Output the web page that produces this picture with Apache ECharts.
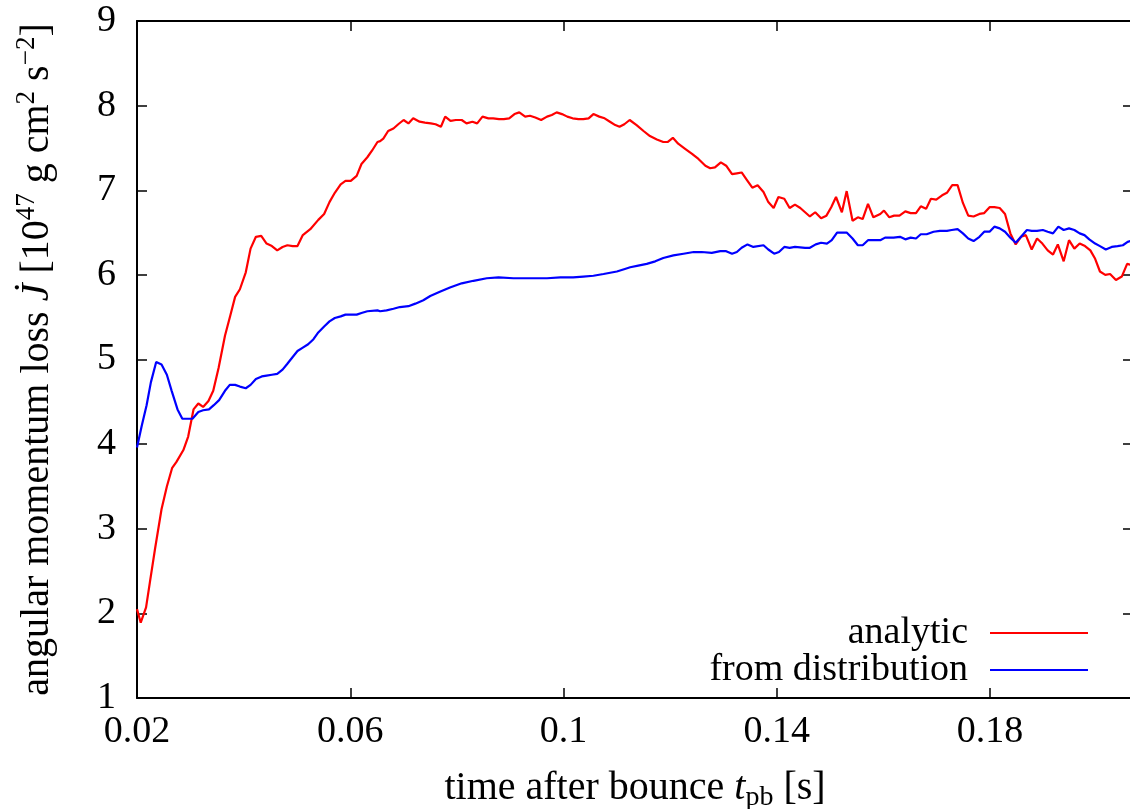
<!DOCTYPE html>
<html>
<head>
<meta charset="utf-8">
<script src="https://cdn.jsdelivr.net/npm/echarts@6/dist/echarts.min.js"></script>
<style>
html,body{margin:0;padding:0;background:#fff;}
#chart{width:1130px;height:809px;}
</style>
</head>
<body>
<div id="chart"></div>
<script>
// ---- data ----
const analyticT = [
0.0200,0.0207,0.0217,0.0224,0.0234,0.0246,0.0256,0.0266,0.0274,0.0287,
0.0296,0.0306,0.0315,0.0324,0.0334,0.0343,0.0353,0.0365,0.0375,0.0384,
0.0393,0.0404,0.0413,0.0423,0.0433,0.0443,0.0453,0.0463,0.0473,0.0482,
0.0492,0.0501,0.0511,0.0525,0.0540,0.0551,0.0561,0.0571,0.0582,0.0591,
0.0601,0.0612,0.0621,0.0632,0.0641,0.0651,
0.0656,0.0662,0.0671,0.0681,0.0690,0.0700,0.0709,0.0718,0.0730,0.0740,
0.0751,0.0760,0.0770,0.0778,0.0788,0.0798,0.0809,0.0818,0.0829,0.0838,
0.0848,0.0859,0.0868,0.0879,0.0888,0.0898,0.0908,0.0917,0.0928,0.0937,
0.0947,0.0958,0.0969,0.0978,0.0987,0.0997,0.1007,0.1017,0.1028,0.1037,
0.1047,0.1056,0.1067,0.1077,0.1087,0.1097,0.1105,0.1114,0.1124,
0.1137,0.1150,0.1162,0.1175,0.1187,0.1195,0.1205,0.1215,0.1228,0.1241,
0.1253,0.1266,0.1275,0.1284,0.1295,0.1305,0.1316,0.1325,0.1334,0.1344,
0.1354,0.1364,0.1375,0.1384,0.1394,0.1403,0.1414,0.1424,0.1434,0.1444,
0.1453,0.1462,0.1472,0.1483,0.1493,0.1502,0.1511,0.1522,0.1531,0.1542,
0.1552,0.1561,0.1571,0.1581,
0.1594,0.1601,0.1611,0.1620,0.1630,0.1641,0.1651,0.1661,0.1670,0.1680,
0.1689,0.1699,0.1710,0.1719,0.1729,0.1739,0.1749,0.1759,0.1769,0.1780,
0.1789,0.1799,0.1808,0.1818,0.1828,0.1838,0.1848,0.1858,0.1867,0.1878,
0.1888,0.1898,0.1908,0.1918,0.1927,0.1938,0.1948,0.1958,0.1968,0.1978,
0.1988,0.1997,0.2006,0.2016,0.2025,0.2036,0.2047,0.2057,0.2063
];
const analyticJ = [
2.05,1.89,2.07,2.36,2.77,3.23,3.50,3.72,3.79,3.93,
4.09,4.41,4.48,4.44,4.51,4.63,4.90,5.28,5.52,5.74,
5.83,6.03,6.31,6.45,6.46,6.37,6.34,6.29,6.33,6.35,
6.34,6.34,6.47,6.54,6.65,6.72,6.86,6.97,7.07,7.11,
7.11,7.17,7.31,7.39,7.47,7.57,
7.58,7.61,7.70,7.73,7.78,7.83,7.79,7.85,7.81,7.80,
7.79,7.78,7.75,7.87,7.82,7.83,7.83,7.79,7.81,7.79,
7.87,7.85,7.85,7.84,7.84,7.85,7.90,7.92,7.87,7.88,
7.86,7.83,7.87,7.89,7.92,7.90,7.87,7.85,7.84,7.84,
7.85,7.90,7.87,7.85,7.81,7.77,7.75,7.78,7.83,
7.77,7.70,7.64,7.60,7.57,7.57,7.62,7.55,7.49,7.43,
7.37,7.29,7.26,7.27,7.33,7.29,7.19,7.20,7.21,7.12,
7.03,7.06,6.98,6.86,6.79,6.92,6.90,6.79,6.83,6.79,
6.74,6.69,6.74,6.67,6.70,6.80,6.92,6.74,6.99,6.64,
6.68,6.66,6.84,6.68,
6.72,6.76,6.68,6.70,6.70,6.75,6.73,6.73,6.81,6.78,
6.90,6.89,6.94,6.97,7.06,7.06,6.85,6.70,6.69,6.72,
6.73,6.80,6.80,6.79,6.72,6.49,6.36,6.45,6.47,6.30,
6.43,6.37,6.29,6.24,6.36,6.16,6.41,6.31,6.37,6.34,
6.29,6.19,6.04,6.00,6.01,5.94,5.98,6.13,6.12
];
const distT = [
0.0200,0.0209,0.0218,0.0226,0.0236,0.0246,0.0256,0.0265,0.0276,0.0285,
0.0294,0.0304,0.0315,0.0324,0.0335,0.0344,0.0354,0.0365,0.0374,0.0384,
0.0393,0.0404,0.0413,0.0423,0.0434,0.0443,0.0453,0.0463,0.0473,0.0482,
0.0492,0.0501,0.0511,0.0521,0.0531,0.0540,0.0551,0.0561,0.0571,0.0582,
0.0591,0.0601,0.0612,0.0621,0.0632,0.0651,
0.0656,0.0668,0.0681,0.0693,0.0709,0.0722,0.0737,0.0750,0.0768,0.0787,
0.0809,0.0831,0.0856,0.0878,0.0906,0.0931,0.0956,0.0969,0.0994,0.1018,
0.1037,0.1056,0.1075,0.1100,0.1115,
0.1125,0.1140,0.1156,0.1172,0.1187,0.1206,0.1225,0.1244,0.1259,0.1278,
0.1294,0.1305,0.1316,0.1325,0.1334,0.1345,0.1356,0.1375,0.1384,0.1395,
0.1404,0.1414,0.1424,0.1434,0.1453,0.1462,0.1473,0.1483,0.1494,0.1503,
0.1513,0.1531,0.1542,0.1552,0.1561,0.1571,0.1581,
0.1594,0.1603,0.1619,0.1631,0.1641,0.1651,0.1661,0.1670,0.1681,0.1694,
0.1706,0.1719,0.1728,0.1739,0.1749,0.1759,0.1769,0.1780,0.1789,0.1799,
0.1808,0.1818,0.1828,0.1838,0.1848,0.1858,0.1869,0.1878,0.1888,0.1899,
0.1908,0.1918,0.1928,0.1938,0.1948,0.1958,0.1968,0.1977,0.1986,0.1997,
0.2006,0.2017,0.2028,0.2039,0.2049,0.2058,0.2063
];
const distJ = [
3.96,4.22,4.46,4.73,4.97,4.94,4.82,4.63,4.41,4.30,
4.30,4.30,4.38,4.40,4.41,4.46,4.52,4.63,4.70,4.70,
4.68,4.66,4.70,4.77,4.80,4.81,4.82,4.83,4.88,4.95,
5.03,5.10,5.14,5.18,5.24,5.32,5.39,5.45,5.49,5.51,
5.53,5.53,5.53,5.55,5.57,5.58,
5.57,5.58,5.60,5.62,5.63,5.66,5.70,5.75,5.80,5.85,
5.90,5.93,5.96,5.97,5.96,5.96,5.96,5.96,5.97,5.97,
5.98,5.99,6.01,6.04,6.07,
6.09,6.11,6.13,6.16,6.20,6.23,6.25,6.27,6.27,6.26,
6.28,6.28,6.25,6.27,6.32,6.36,6.33,6.35,6.30,6.25,
6.27,6.33,6.32,6.33,6.32,6.32,6.36,6.38,6.37,6.41,
6.50,6.50,6.43,6.35,6.35,6.41,6.41,
6.41,6.44,6.44,6.45,6.42,6.44,6.43,6.48,6.48,6.51,
6.52,6.52,6.53,6.54,6.49,6.43,6.40,6.45,6.51,6.51,
6.57,6.55,6.51,6.44,6.38,6.45,6.53,6.52,6.52,6.53,
6.51,6.49,6.57,6.53,6.55,6.53,6.49,6.47,6.42,6.37,
6.34,6.30,6.33,6.34,6.35,6.39,6.40
];
const seriesNames = ['analytic', 'from distribution'];
const xTicks = [0.02, 0.06, 0.1, 0.14, 0.18];
const yTicks = [1, 2, 3, 4, 5, 6, 7, 8, 9];

// ---- chart ----
const FONT = '"Liberation Serif", "DejaVu Serif", serif';
const FS = 38;
const NFS = 40;
const pairs = (t, v) => t.map((x, i) => [x, v[i]]);

const xCommon = {
  type: 'value', min: 0.02, max: 0.2068, interval: 0.04,
  axisLine: { show: true, lineStyle: { color: '#000', width: 2 } },
  axisTick: { show: true, inside: true, length: 10, lineStyle: { color: '#000', width: 1.5 } },
  splitLine: { show: false }
};
const yCommon = {
  type: 'value', min: 1, max: 9, interval: 1,
  axisLine: { show: true, lineStyle: { color: '#000', width: 2 } },
  axisTick: { show: true, inside: true, length: 10, lineStyle: { color: '#000', width: 1.5 } },
  splitLine: { show: false }
};

const chart = echarts.init(document.getElementById('chart'), null, { renderer: 'canvas' });
chart.setOption({
  animation: false,
  backgroundColor: '#fff',
  grid: { left: 137, top: 21, width: 996, height: 677, containLabel: false, outerBoundsMode: 'none' },
  textStyle: { fontFamily: FONT },
  xAxis: [
    Object.assign({}, xCommon, {
      position: 'bottom',
      axisLabel: {
        show: true, color: '#000', fontFamily: FONT, fontSize: FS, margin: 15,
        formatter: v => {
          const r = Math.round(v * 100) / 100;
          return xTicks.some(t => Math.abs(t - r) < 1e-9) ? String(r) : '';
        }
      },
      name: '{m|time after bounce }{i|t}{s|pb}{m| [s]}',
      nameLocation: 'middle', nameGap: 70,
      nameTextStyle: {
        color: '#000', fontFamily: FONT, fontSize: NFS,
        rich: {
          m: { fontSize: NFS, fontFamily: FONT, color: '#000', height: 40, lineHeight: 44, verticalAlign: 'top' },
          i: { fontSize: NFS, fontFamily: FONT, fontStyle: 'italic', color: '#000', height: 40, lineHeight: 44, verticalAlign: 'top' },
          s: { fontSize: 28, fontFamily: FONT, color: '#000', height: 28, lineHeight: 28, verticalAlign: 'bottom' }
        }
      }
    }),
    Object.assign({}, xCommon, { position: 'top', axisLabel: { show: false } })
  ],
  yAxis: [
    Object.assign({}, yCommon, {
      position: 'left',
      axisLabel: {
        show: true, color: '#000', fontFamily: FONT, fontSize: FS, margin: 21,
        formatter: v => yTicks.includes(Math.round(v)) ? String(Math.round(v)) : ''
      },
      name: '{m|angular momentum loss }{i|J\u0307}{m| [10}{p|47}{m| g cm}{p|2}{m| s}{p|\u22122}{m|]}',
      nameLocation: 'middle', nameGap: 80,
      nameTextStyle: {
        color: '#000', fontFamily: FONT, fontSize: NFS,
        rich: {
          m: { fontSize: NFS, fontFamily: FONT, color: '#000', height: 40, lineHeight: 44, verticalAlign: 'bottom' },
          i: { fontSize: NFS, fontFamily: FONT, fontStyle: 'italic', color: '#000', height: 40, lineHeight: 44, verticalAlign: 'bottom' },
          p: { fontSize: 27, fontFamily: FONT, color: '#000', height: 27, lineHeight: 27, verticalAlign: 'top' }
        }
      }
    }),
    Object.assign({}, yCommon, { position: 'right', axisLabel: { show: false } })
  ],
  legend: {
    orient: 'vertical', align: 'right', right: 37, top: 609,
    itemWidth: 98, itemHeight: 2, itemGap: -1, icon: 'rect',
    textStyle: { color: '#000', fontFamily: FONT, fontSize: FS, lineHeight: 37, padding: [0, 17, 0, 0] },
    data: seriesNames
  },
  series: [
    {
      name: seriesNames[0], type: 'line', xAxisIndex: 0, yAxisIndex: 0,
      data: pairs(analyticT, analyticJ), showSymbol: false, symbol: 'none',
      lineStyle: { color: '#ff0000', width: 2.2 }, itemStyle: { color: '#ff0000' }
    },
    {
      name: seriesNames[1], type: 'line', xAxisIndex: 0, yAxisIndex: 0,
      data: pairs(distT, distJ), showSymbol: false, symbol: 'none',
      lineStyle: { color: '#0000ff', width: 2.2 }, itemStyle: { color: '#0000ff' }
    }
  ]
});
</script>
</body>
</html>
